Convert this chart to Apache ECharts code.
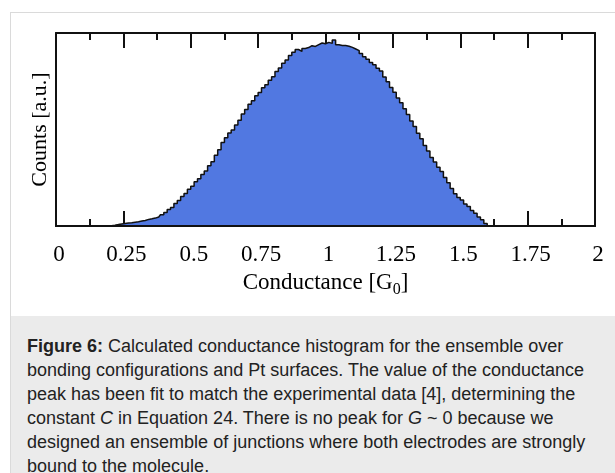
<!DOCTYPE html>
<html>
<head>
<meta charset="utf-8">
<script src="https://cdn.jsdelivr.net/npm/echarts@6/dist/echarts.min.js"></script>
<style>
  html, body { margin: 0; padding: 0; background: #fff; }
  #page { position: relative; width: 615px; height: 473px; overflow: hidden; }
  #frame { position: absolute; left: 10px; top: 12px; right: 0; bottom: 0; border-left: 1px solid #dadada; border-top: 1px solid #dadada; }
  #caption { position: absolute; left: 11px; top: 316px; right: 0; bottom: 0; background: #ebebeb;
    font-family: "Liberation Sans", Arial, sans-serif; font-size: 18px; line-height: 24px; color: #222;
    padding: 18px 0 0 16px; box-sizing: border-box; white-space: nowrap; }
  #chart { position: absolute; left: 0; top: 0; width: 615px; height: 316px; }
</style>
</head>
<body>
<div id="page">
  <div id="frame"></div>
  <div id="caption"><b>Figure 6:</b> Calculated conductance histogram for the ensemble over<br>bonding configurations and Pt surfaces. The value of the conductance<br>peak has been fit to match the experimental data [4], determining the<br>constant <i>C</i> in Equation 24. There is no peak for <i>G</i> ~ 0 because we<br>designed an ensemble of junctions where both electrodes are strongly<br>bound to the molecule.</div>
  <div id="chart"></div>
</div>
<script>
// Histogram: bins of width 0.0125 G0 from 0 to 2 (160 bins), counts in arbitrary units
const binStart = 0;
const binWidth = 0.0125;
const counts = [
  0,0,0,0,0,0,0,0,0,0,0,0,0,0,0,0,
  0.3,0.8,1.4,2.1,2.6,3.0,3.3,3.8,4.2,4.9,
  5.5,6.6,7.2,7.9,9.0,11.2,13.4,16.4,18.6,22.5,
  25.4,29.6,32.4,36.8,39.8,44.2,47.2,51.6,55.0,60.3,
  64.2,70.8,76.2,83.4,88.2,92.9,96.0,101.0,105.7,111.9,
  116.5,121.8,125.2,130.3,133.6,138.2,141.2,145.7,149.2,154.4,
  158.0,162.8,166.0,170.5,173.8,176.5,174.6,177.6,178.4,180.3,
  179.6,181.4,183.0,182.2,183.6,182.6,186.0,181.2,180.6,180.4,
  179.8,178.6,177.0,175.4,172.6,169.2,166.8,163.5,161.2,157.8,
  154.9,149.0,144.3,138.4,133.8,128.0,123.3,117.2,111.6,105.0,
  99.5,92.8,87.3,80.5,75.0,68.4,64.1,58.7,54.5,48.4,
  43.3,37.6,32.3,28.6,25.9,22.1,19.4,15.6,12.8,9.1,
  6.2,2.4,
  0,0,0,0,0,0,0,0,0,0,0,0,0,0,0,0,
  0,0,0,0,0,0,0,0,0,0,0,0,0,0,0,0
];
const xTickLabels = ['0','0.25','0.5','0.75','1','1.25','1.5','1.75','2'];
const xMin = 0, xMax = 2, xInterval = 0.25;
const yMax = 193;

const seriesData = counts.map((c, i) => [binStart + (i + 0.5) * binWidth, c]);

const serif = '"Liberation Serif", "Times New Roman", serif';
const black = '#111';
const chart = echarts.init(document.getElementById('chart'), null, { renderer: 'canvas' });

const baseX = {
  type: 'value', min: xMin, max: xMax, interval: xInterval,
  splitLine: { show: false }, minorSplitLine: { show: false }
};

chart.setOption({
  animation: false,
  grid: { left: 56, right: 20, top: 33, bottom: 90, containLabel: false },
  xAxis: [
    Object.assign({}, baseX, {
      position: 'bottom',
      axisLine: { show: true, onZero: false, lineStyle: { color: black, width: 2 } },
      axisTick: { show: true, inside: true, length: 15, lineStyle: { color: black, width: 2 } },
      minorTick: { show: true, splitNumber: 2, length: 7, lineStyle: { color: black, width: 2 } },
      axisLabel: {
        show: true, margin: 17, color: '#000', fontFamily: serif, fontSize: 23,
        padding: [0, 0, 0, 6],
        formatter: v => xTickLabels[Math.round((v - xMin) / xInterval)]
      },
      name: '{a|Conductance [G}{s|0}{a|]}',
      nameLocation: 'middle', nameGap: 45,
      nameTextStyle: {
        color: '#000', fontFamily: serif, fontSize: 23,
        rich: {
          a: { fontFamily: serif, fontSize: 23, color: '#000', lineHeight: 23, verticalAlign: 'top' },
          s: { fontFamily: serif, fontSize: 16, color: '#000', lineHeight: 16, verticalAlign: 'top', padding: [11, 0, 0, 0] }
        }
      }
    }),
    Object.assign({}, baseX, {
      position: 'top',
      axisLine: { show: true, onZero: false, lineStyle: { color: black, width: 2 } },
      axisTick: { show: true, inside: true, length: 15, lineStyle: { color: black, width: 2 } },
      minorTick: { show: true, splitNumber: 2, length: 7, lineStyle: { color: black, width: 2 } },
      axisLabel: { show: false }
    }),
    Object.assign({}, baseX, {
      position: 'bottom', z: 10,
      axisLine: { show: true, onZero: false, lineStyle: { color: black, width: 2 } },
      axisTick: { show: false }, minorTick: { show: false }, axisLabel: { show: false }
    })
  ],
  yAxis: [
    {
      type: 'value', min: 0, max: yMax, position: 'left',
      axisLine: { show: true, onZero: false, lineStyle: { color: black, width: 2 } },
      axisTick: { show: false }, axisLabel: { show: false }, splitLine: { show: false },
      name: 'Counts [a.u.]', nameLocation: 'middle', nameGap: 5, nameRotate: 90,
      nameTextStyle: { color: '#000', fontFamily: serif, fontSize: 22 }
    },
    {
      type: 'value', min: 0, max: yMax, position: 'right',
      axisLine: { show: true, onZero: false, lineStyle: { color: black, width: 2 } },
      axisTick: { show: false }, axisLabel: { show: false }, splitLine: { show: false }
    }
  ],
  series: [{
    type: 'line',
    xAxisIndex: 0, yAxisIndex: 0,
    data: seriesData,
    step: 'middle',
    symbol: 'none',
    lineStyle: { color: black, width: 1.5 },
    areaStyle: { color: '#5178e1', opacity: 1 },
    z: 2
  }]
});
</script>
</body>
</html>
